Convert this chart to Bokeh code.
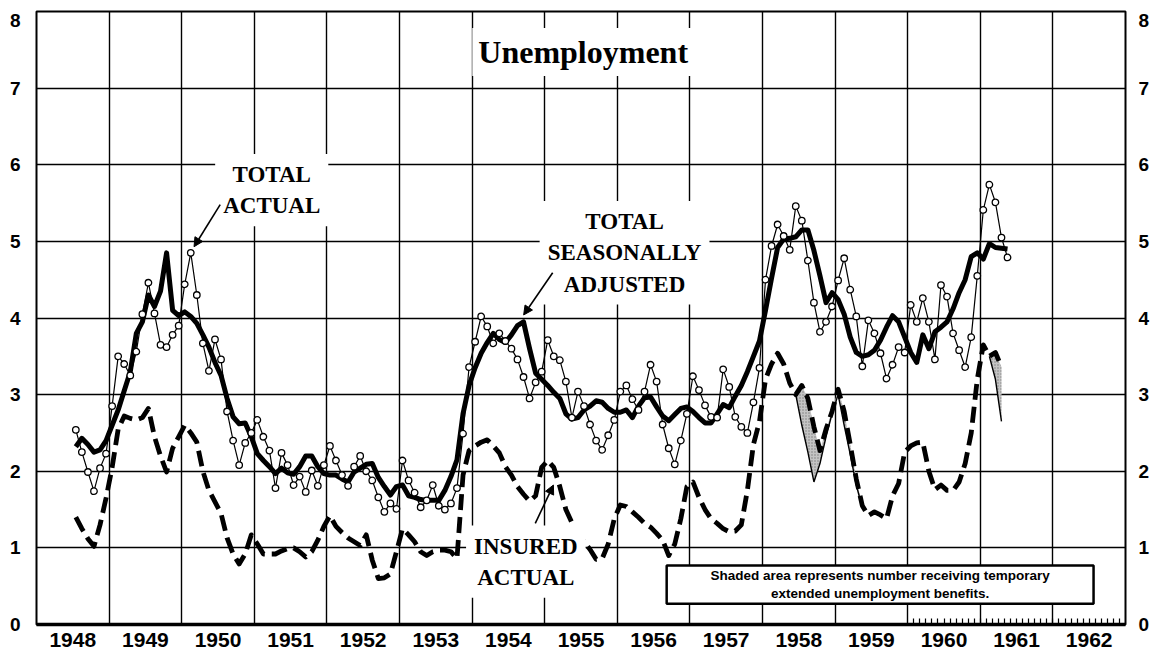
import pandas as pd
from bokeh.plotting import figure
from bokeh.models import (FixedTicker, LinearAxis, Label, Arrow, NormalHead,
                          BoxAnnotation, ColumnDataSource)
from bokeh.embed import file_html
from bokeh.resources import INLINE

# ---------------- data (millions of persons, monthly) ----------------
YEARS = list(range(1948, 1963))
YEAR_LABELS = [str(y) for y in YEARS]
Y_TICKS = list(range(0, 9))
Y_LABELS = [str(v) for v in Y_TICKS]

# Total unemployment, actual (Jul 1948 - May 1961)
total_actual = (
    [2.54, 2.25, 1.99, 1.74, 2.04, 2.23] +
    [2.85, 3.50, 3.40, 3.25, 3.56, 4.05, 4.46, 4.06, 3.65, 3.62, 3.78, 3.90] +
    [4.44, 4.85, 4.30, 3.67, 3.31, 3.72, 3.46, 2.78, 2.40, 2.08, 2.37, 2.50] +
    [2.67, 2.45, 2.27, 1.78, 2.24, 2.08, 1.82, 1.93, 1.73, 2.01, 1.81, 2.08] +
    [2.33, 2.14, 1.95, 1.81, 2.06, 2.20, 2.00, 1.88, 1.66, 1.47, 1.58, 1.51] +
    [2.14, 1.88, 1.72, 1.53, 1.62, 1.82, 1.55, 1.50, 1.58, 1.78, 2.49, 3.36] +
    [3.69, 4.02, 3.89, 3.67, 3.80, 3.70, 3.60, 3.46, 3.23, 2.95, 3.16, 3.30] +
    [3.71, 3.50, 3.45, 3.17, 2.70, 3.04, 2.85, 2.61, 2.40, 2.28, 2.47, 2.67] +
    [3.04, 3.12, 2.94, 2.80, 3.04, 3.39, 3.17, 2.61, 2.30, 2.09, 2.40, 2.75] +
    [3.24, 3.06, 2.86, 2.71, 2.70, 3.33, 3.10, 2.71, 2.58, 2.50, 2.90, 3.35] +
    [4.50, 4.94, 5.22, 5.07, 4.89, 5.46, 5.27, 4.75, 4.20, 3.82, 3.95, 4.15] +
    [4.49, 4.78, 4.37, 4.02, 3.37, 3.97, 3.80, 3.54, 3.21, 3.39, 3.62, 3.55] +
    [4.17, 3.95, 4.26, 3.95, 3.46, 4.43, 4.28, 3.80, 3.58, 3.36, 3.75, 4.55] +
    [5.41, 5.74, 5.51, 5.05, 4.79]
)

# Total unemployment, seasonally adjusted (Jul 1948 - May 1961)
total_sa = (
    [2.32, 2.43, 2.35, 2.25, 2.28, 2.40] +
    [2.60, 2.80, 3.05, 3.30, 3.80, 3.95, 4.30, 4.15, 4.35, 4.85, 4.10, 4.03] +
    [4.08, 4.02, 3.93, 3.78, 3.62, 3.42, 3.25, 2.95, 2.71, 2.62, 2.63, 2.45] +
    [2.23, 2.14, 2.06, 1.97, 2.04, 1.98, 1.96, 2.06, 2.20, 2.20, 2.06, 1.97] +
    [1.95, 1.95, 1.90, 1.86, 1.99, 2.04, 2.09, 2.10, 1.92, 1.80, 1.69, 1.80] +
    [1.82, 1.68, 1.66, 1.63, 1.62, 1.62, 1.62, 1.75, 1.93, 2.15, 2.75, 3.12] +
    [3.35, 3.54, 3.68, 3.80, 3.72, 3.68, 3.78, 3.90, 3.95, 3.60, 3.28, 3.20] +
    [3.12, 3.03, 2.95, 2.75, 2.68, 2.70, 2.80, 2.85, 2.92, 2.90, 2.82, 2.77] +
    [2.77, 2.80, 2.70, 2.85, 2.96, 2.97, 2.84, 2.72, 2.66, 2.74, 2.82, 2.84] +
    [2.78, 2.70, 2.63, 2.63, 2.75, 2.87, 2.83, 2.98, 3.12, 3.30, 3.50, 3.70] +
    [4.10, 4.52, 4.92, 5.03, 5.04, 5.06, 5.15, 5.15, 4.88, 4.55, 4.20, 4.33] +
    [4.24, 4.05, 3.75, 3.55, 3.50, 3.52, 3.58, 3.71, 3.88, 4.03, 3.95, 3.75] +
    [3.55, 3.42, 3.78, 3.60, 3.82, 3.88, 3.95, 4.12, 4.33, 4.50, 4.80, 4.85] +
    [4.77, 4.97, 4.92, 4.91, 4.90]
)

# Insured unemployment, actual, incl. temporary extended benefits (Jul 1948 - Apr 1961)
insured = (
    [1.40, 1.25, 1.12, 1.02, 1.30, 1.65] +
    [2.05, 2.55, 2.72, 2.69, 2.67, 2.70, 2.82, 2.45, 2.20, 1.99, 2.30, 2.45] +
    [2.60, 2.50, 2.38, 2.00, 1.75, 1.60, 1.45, 1.13, 0.92, 0.79, 0.92, 1.17] +
    [1.05, 0.92, 0.92, 0.92, 0.96, 0.99, 1.00, 0.95, 0.88, 0.95, 1.10, 1.28] +
    [1.42, 1.28, 1.20, 1.13, 1.08, 1.03, 1.17, 0.84, 0.60, 0.61, 0.66, 0.95] +
    [1.25, 1.17, 1.08, 0.95, 0.90, 0.95, 0.97, 0.97, 0.95, 0.86, 1.95, 2.27] +
    [2.33, 2.38, 2.41, 2.33, 2.24, 2.06, 1.95, 1.80, 1.70, 1.61, 1.68, 2.05] +
    [2.14, 2.05, 1.80, 1.50, 1.33, 1.20, 1.08, 0.98, 0.85, 0.86, 1.05, 1.38] +
    [1.56, 1.54, 1.47, 1.40, 1.32, 1.27, 1.19, 1.10, 0.90, 1.05, 1.38, 1.80] +
    [1.86, 1.66, 1.50, 1.38, 1.32, 1.25, 1.21, 1.22, 1.30, 1.75, 2.35, 2.65] +
    [3.20, 3.40, 3.54, 3.40, 3.15, 3.00, 3.12, 2.95, 2.58, 2.27, 2.55, 2.78] +
    [3.07, 2.78, 2.35, 1.90, 1.55, 1.42, 1.47, 1.43, 1.38, 1.68, 1.84, 2.25] +
    [2.33, 2.37, 2.38, 2.00, 1.76, 1.82, 1.75, 1.75, 1.86, 2.10, 2.50, 3.20] +
    [3.65, 3.50, 3.55, 3.36]
)

# Insured under regular programs only, while temporary extended benefits were paid
regular_1958 = [3.00, 2.60, 2.25, 1.86, 2.10, 2.45, 2.75, 3.00, 2.60, 2.22, 1.82, 1.52]  # Jun58-May59
regular_1961 = [3.50, 3.20, 2.65]                                                         # Feb61-Apr61


def month_x(start, n):
    per = pd.period_range(start, periods=n, freq="M")
    return list(per.year + (per.month - 0.5) / 12.0)


x_total = month_x("1948-07", len(total_actual))
x_sa = month_x("1948-07", len(total_sa))
x_ins = month_x("1948-07", len(insured))
x_reg58 = month_x("1958-06", len(regular_1958))
x_reg61 = month_x("1961-02", len(regular_1961))
i58 = x_ins.index(x_reg58[0])
i61 = x_ins.index(x_reg61[0])
ins58 = insured[i58:i58 + len(regular_1958)]
ins61 = insured[i61:i61 + len(regular_1961)]

# ---------------- figure ----------------
p = figure(width=1156, height=659, x_range=(1948, 1963), y_range=(0, 8),
           output_backend="svg", toolbar_location=None,
           min_border_left=36, min_border_right=31, min_border_top=11, min_border_bottom=35,
           background_fill_color="white", border_fill_color="white")
p.outline_line_color = "black"
p.outline_line_width = 2

TICK_FONT = "Liberation Sans"

# x axis: year labels centred in each year, monthly ticks for 1960-62
p.xaxis.ticker = FixedTicker(ticks=[y + 0.5 for y in YEARS],
                             minor_ticks=[1960 + i / 12 for i in range(1, 36)])
p.xaxis.major_label_overrides = {y + 0.5: lab for y, lab in zip(YEARS, YEAR_LABELS)}
p.xaxis.major_tick_in = 0
p.xaxis.major_tick_out = 0
p.xaxis.minor_tick_in = 6
p.xaxis.minor_tick_out = 0
p.xaxis.minor_tick_line_width = 1.2
p.xaxis.axis_line_width = 3.5
p.xaxis.major_label_standoff = 8
p.xaxis.major_label_text_font = TICK_FONT
p.xaxis.major_label_text_font_style = "bold"
p.xaxis.major_label_text_font_size = "21px"
p.xaxis.major_label_text_color = "black"

# y labels: the top label "8" sits a little below the frame edge, as in the original
y_label_pos = Y_TICKS[:-1] + [7.88]
y_over = {pos: lab for pos, lab in zip(y_label_pos, Y_LABELS)}
y_axis_kw = dict(major_tick_in=0, major_tick_out=0, minor_tick_line_color=None,
                 axis_line_color=None, major_label_text_font=TICK_FONT,
                 major_label_text_font_style="bold", major_label_text_font_size="19px",
                 major_label_text_color="black")
p.yaxis.ticker = FixedTicker(ticks=y_label_pos)
p.yaxis.major_label_overrides = y_over
p.yaxis.major_label_standoff = 16
for k, v in y_axis_kw.items():
    setattr(p.yaxis[0], k, v)

right = LinearAxis(ticker=FixedTicker(ticks=y_label_pos), major_label_overrides=y_over,
                   major_label_standoff=13, **y_axis_kw)
p.add_layout(right, "right")

p.xgrid.ticker = FixedTicker(ticks=YEARS[1:])
p.ygrid.ticker = FixedTicker(ticks=Y_TICKS[1:-1])
for g in (p.xgrid, p.ygrid):
    g.grid_line_color = "black"
    g.grid_line_width = 1.4

# shaded area: temporary extended unemployment benefits
for xs, lo, hi in [(x_reg58, regular_1958, ins58), (x_reg61, regular_1961, ins61)]:
    p.varea(x=xs, y1=lo, y2=hi, fill_color="#c4c4c4", hatch_pattern="dot",
            hatch_color="#6a6a6a", hatch_scale=3, hatch_alpha=0.8)
    p.line(x=xs, y=lo, line_color="black", line_width=1.4)

# insured actual (dashed)
p.line(x=x_ins, y=insured, line_color="black", line_width=4.8, line_dash="16 7",
       line_join="round")

# total seasonally adjusted (heavy line)
p.line(x=x_sa, y=total_sa, line_color="black", line_width=5, line_join="round")

# total actual (thin line with open circles)
src = ColumnDataSource(dict(x=x_total, y=total_actual))
p.line("x", "y", source=src, line_color="black", line_width=1.2)
p.scatter("x", "y", source=src, marker="circle", size=6.5, fill_color="white",
          line_color="black", line_width=1.3)

# ---------------- annotations ----------------
SERIF = "Liberation Serif"
p.add_layout(Label(x=1955.53, y=7.47, text="Unemployment", text_align="center",
                   text_baseline="middle", text_font=SERIF, text_font_style="bold",
                   text_font_size="32px", text_color="black",
                   background_fill_color="white", padding=6))

label_kw = dict(text_align="center", text_baseline="middle", text_font=SERIF,
                text_font_style="bold", text_font_size="23px", text_color="black",
                text_line_height=1.25, background_fill_color="white", padding=8)
p.add_layout(Label(x=1951.24, y=5.67, text="TOTAL\nACTUAL", **label_kw))
p.add_layout(Label(x=1956.10, y=4.85, text="TOTAL\nSEASONALLY\nADJUSTED", **label_kw))
p.add_layout(Label(x=1954.74, y=0.82, text="INSURED\nACTUAL", **label_kw))

head = dict(size=9, fill_color="black", line_color="black")
p.add_layout(Arrow(end=NormalHead(**head), x_start=1950.53, y_start=5.48,
                   x_end=1950.17, y_end=4.93, line_width=1.6))
p.add_layout(Arrow(end=NormalHead(**head), x_start=1955.11, y_start=4.59,
                   x_end=1954.71, y_end=4.04, line_width=1.6))
p.add_layout(Arrow(end=NormalHead(**head), x_start=1954.87, y_start=1.32,
                   x_end=1955.12, y_end=1.82, line_width=1.6))

p.add_layout(BoxAnnotation(left=1956.68, right=1962.56, bottom=0.27, top=0.77,
                           fill_color="white", fill_alpha=1.0, line_color="black",
                           line_width=2.5, line_alpha=1.0))
p.add_layout(Label(x=1959.62, y=0.523,
                   text="Shaded area represents number receiving temporary\nextended unemployment benefits.",
                   text_align="center", text_baseline="middle", text_font=TICK_FONT,
                   text_font_style="bold", text_font_size="13.5px", text_color="black",
                   text_line_height=1.15))

open("out.html", "w").write(file_html(p, INLINE))
